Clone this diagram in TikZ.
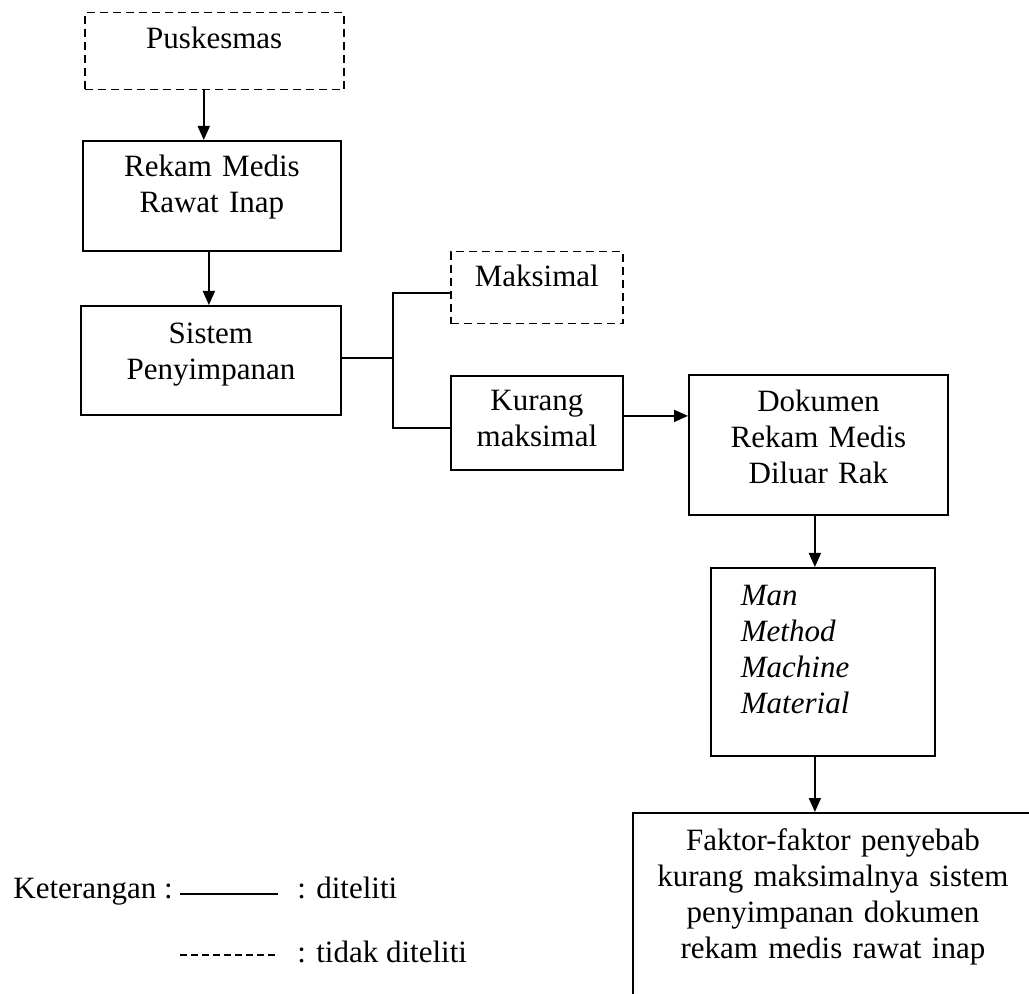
\documentclass[tikz,border=0pt]{standalone}
\usepackage{fontspec}
\setmainfont{Liberation Serif}
\usetikzlibrary{arrows.meta}

\tikzset{
 box/.style={draw, line width=.9pt, anchor=north west, inner sep=0pt, align=center},
 nobox/.style={box, line width=.75pt, dash pattern=on 4pt off 2.5pt},
 garis/.style={line width=.9pt},
}

\begin{document}
\begin{tikzpicture}[x=.5pt, y=-.5pt, font=\fontsize{15.5}{18}\selectfont, >={Triangle[length=7pt,width=6pt]}]
\clip (0,0) rectangle (1029,994);
\node[nobox, text width=129.5pt, text height=18pt, text depth=20.5pt] (pusk) at (84,12) {Puskesmas};
\node[box, text width=129pt, text height=18pt, text depth=37pt] (rekam) at (82,140) {Rekam Medis\\Rawat Inap};
\node[box, text width=130pt, text height=19pt, text depth=35.5pt] (sistem) at (80,305) {Sistem\\Penyimpanan};
\node[nobox, text width=86pt, text height=17.5pt, text depth=18.5pt] (maks) at (450,251) {Maksimal};
\node[box, text width=86pt, text height=17.5pt, text depth=29.5pt] (kurang) at (450,375) {Kurang\\maksimal};
\node[box, text width=129.5pt, text height=18.5pt, text depth=51.5pt] (dok) at (688,374) {Dokumen\\Rekam Medis\\Diluar Rak};
\node[box, align=left, inner xsep=15pt, text width=82pt, text height=19pt, text depth=75pt] (faktor) at (710,567) {\itshape Man\\\itshape Method\\\itshape Machine\\\itshape Material};
\node[box, text width=200pt, text height=19pt, text depth=100pt] (hasil) at (632,812) {Faktor-faktor penyebab\\kurang maksimalnya sistem\\penyimpanan dokumen\\rekam medis rawat inap};

% alur
\draw[garis, ->] ([xshift=-5.25pt]pusk.south) -- ([xshift=-5.25pt]pusk.south |- rekam.north);
\draw[garis, ->] ([xshift=-1.5pt]rekam.south) -- ([xshift=-1.5pt]rekam.south |- sistem.north);
\draw[garis] ([yshift=1.25pt]sistem.east) -- ++(25.5pt,0) coordinate (cabang);
\draw[garis] ([yshift=-2.5pt]maks.west) -| (cabang) |- ([yshift=-2.5pt]kurang.west);
\draw[garis, ->] ([yshift=3.5pt]kurang.east) -- ([yshift=3.5pt]kurang.east -| dok.west);
\draw[garis, ->] ([xshift=-1.75pt]dok.south) -- ([xshift=-1.75pt]dok.south |- faktor.north);
\draw[garis, ->] ([xshift=-4pt]faktor.south) -- ([xshift=-4pt]faktor.south |- hasil.north);

% keterangan
\node[anchor=base west, inner sep=0pt] (ket) at (13,898) {Keterangan :};
\draw[garis] (180,894) -- (278,894);
\node[anchor=base west, inner sep=0pt] (diteliti) at (297,898) {: diteliti};
\draw[line width=.6pt, dash pattern=on 3.5pt off 2pt] (180,955) -- (278,955);
\node[anchor=base west, inner sep=0pt] (tidak) at (297,962) {: tidak diteliti};
\end{tikzpicture}
\end{document}
